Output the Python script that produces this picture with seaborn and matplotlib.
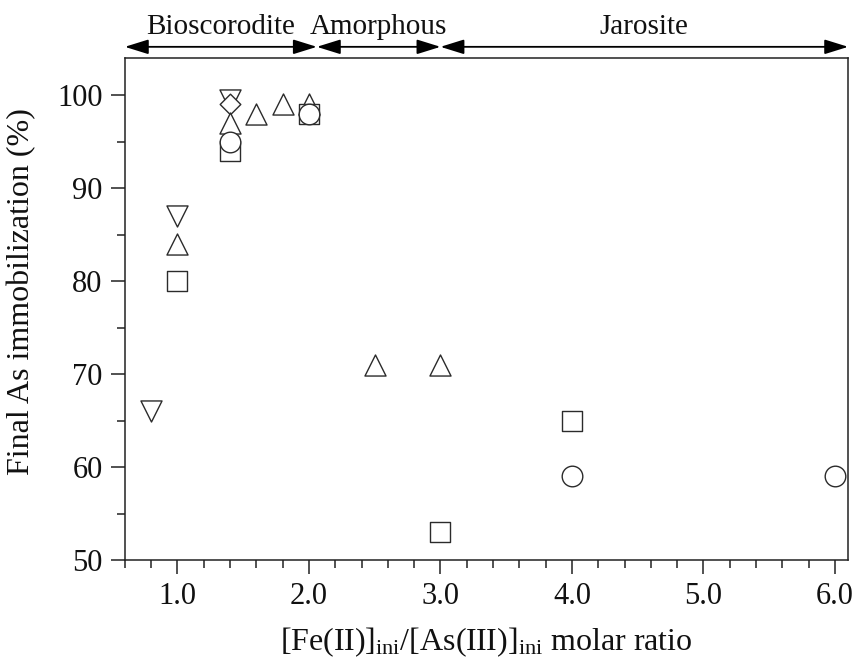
import matplotlib
matplotlib.use("Agg")
import matplotlib.pyplot as plt
from matplotlib.ticker import MultipleLocator, FormatStrFormatter
import seaborn as sns
import pandas as pd

# Final As immobilization (%) against the initial Fe(II)/As(III) molar ratio
tri_down_x = [0.8, 1.0, 1.4]
tri_down_y = [66, 87, 99.5]

diamond_x = [1.4]
diamond_y = [99]

tri_up_x = [1.0, 1.4, 1.6, 1.8, 2.0, 2.5, 3.0]
tri_up_y = [84, 97, 98, 99, 99, 71, 71]

square_x = [1.0, 1.4, 2.0, 3.0, 4.0]
square_y = [80, 94, 98, 53, 65]

circle_x = [1.4, 2.0, 4.0, 6.0]
circle_y = [95, 98, 59, 59]

# Precipitate regimes shown above the plot: (label, start ratio, end ratio)
phase_labels = ["Bioscorodite", "Amorphous", "Jarosite"]
phase_start = [0.6, 2.06, 3.0]
phase_end = [2.06, 3.0, 6.1]

sns.set_theme(style="ticks")
plt.rcParams["font.family"] = ["Liberation Serif", "DejaVu Serif"]
plt.rcParams["mathtext.fontset"] = "custom"
plt.rcParams["mathtext.rm"] = "Liberation Serif"
plt.rcParams["mathtext.it"] = "Liberation Serif:italic"

fig = plt.figure(figsize=(8.55, 6.59), dpi=100)
ax = fig.add_axes([0.146, 0.150, 0.846, 0.762])

edge = "#2b2b2b"
series = [
    (tri_down_x, tri_down_y, "v", 230),
    (diamond_x, diamond_y, "D", 110),
    (tri_up_x, tri_up_y, "^", 230),
    (square_x, square_y, "s", 200),
    (circle_x, circle_y, "o", 220),
]
for xs, ys, mk, size in series:
    df = pd.DataFrame({"ratio": xs, "immob": ys})
    sns.scatterplot(data=df, x="ratio", y="immob", marker=mk, s=size,
                    facecolor="white", edgecolor=edge, linewidth=1.0,
                    ax=ax, zorder=3, legend=False)

ax.set_xlim(0.6, 6.1)
ax.set_ylim(50, 104)

ax.xaxis.set_major_locator(MultipleLocator(1.0))
ax.xaxis.set_minor_locator(MultipleLocator(0.2))
ax.xaxis.set_major_formatter(FormatStrFormatter("%.1f"))
ax.yaxis.set_major_locator(MultipleLocator(10))
ax.yaxis.set_minor_locator(MultipleLocator(5))

ax.tick_params(axis="both", which="major", direction="out", length=10,
               width=1.1, labelsize=22, color="#222222", labelcolor="#111111",
               pad=6)
ax.tick_params(axis="both", which="minor", direction="out", length=6,
               width=1.1, color="#222222")
ax.tick_params(axis="x", which="both", top=False)
ax.tick_params(axis="y", which="both", right=False)

for sp in ax.spines.values():
    sp.set_linewidth(1.1)
    sp.set_color("#222222")

ax.set_xlabel(r"[Fe(II)]$_{\mathrm{ini}}$/[As(III)]$_{\mathrm{ini}}$ molar ratio",
              fontsize=23, color="#111111", labelpad=10)
ax.set_ylabel("Final As immobilization (%)", fontsize=23, color="#111111")
ax.yaxis.set_label_coords(-0.122, 0.535)

# Double-headed arrows marking each precipitate regime
arrow_y = 105.2
text_y = 106.6
for name, x0, x1 in zip(phase_labels, phase_start, phase_end):
    ax.annotate("", xy=(x1, arrow_y), xytext=(x0, arrow_y),
                xycoords="data", textcoords="data", annotation_clip=False,
                arrowprops=dict(arrowstyle="<|-|>,head_length=0.9,head_width=0.28",
                                color="black", lw=1.3, mutation_scale=16,
                                shrinkA=0, shrinkB=0))
    ax.text((x0 + x1) / 2, text_y, name, ha="center", va="baseline",
            fontsize=21, color="#111111", clip_on=False)

fig.savefig("out.png", dpi=100)
